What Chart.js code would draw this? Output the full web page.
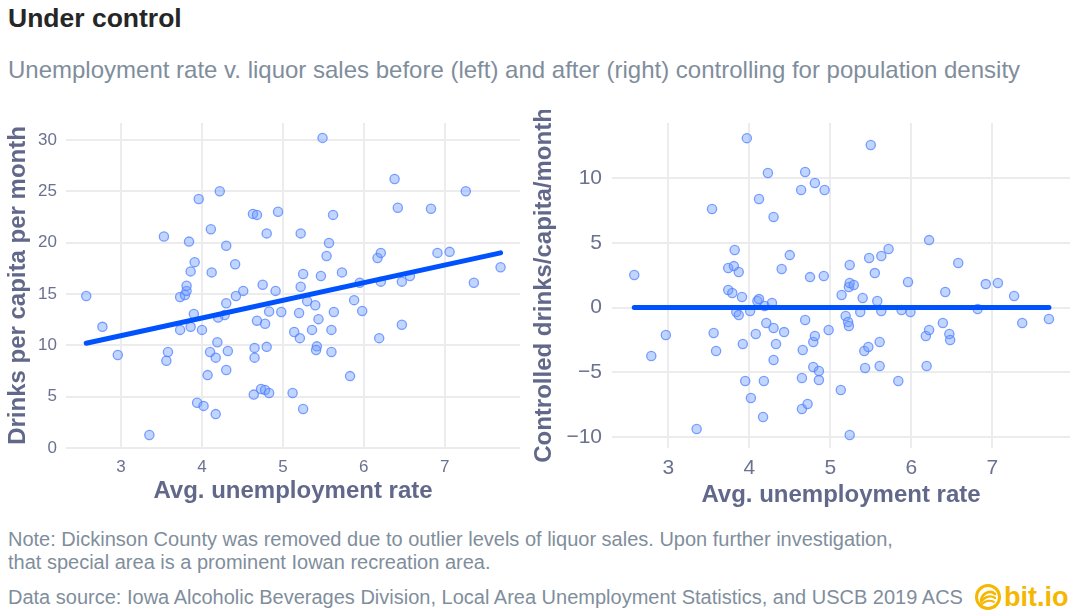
<!DOCTYPE html>
<html><head><meta charset="utf-8">
<script src="https://cdn.jsdelivr.net/npm/chart.js@4.4.1/dist/chart.umd.min.js"></script>
<style>
body{margin:0;width:1077px;height:616px;background:#fff;position:relative;overflow:hidden;font-family:"Liberation Sans",Arial,sans-serif;}
.t{position:absolute;white-space:nowrap;}
#title{left:8px;top:3px;font-size:26.5px;line-height:30px;font-weight:bold;color:#262626;}
#sub{left:8px;top:56px;font-size:24px;line-height:28px;color:#7f8e9c;}
#note{left:8px;top:528px;font-size:20px;line-height:23px;color:#7f8e9c;}
#src{left:8px;top:585px;font-size:20px;line-height:24px;color:#7f8e9c;}
#logo{left:974px;top:583px;}
#logotxt{left:1004px;top:582px;font-size:27px;line-height:30px;font-weight:bold;color:#f5b700;}
#c1{position:absolute;left:0;top:110px;}
#c2{position:absolute;left:530px;top:110px;}
</style></head>
<body>
<div class="t" id="title">Under control</div>
<div class="t" id="sub">Unemployment rate v. liquor sales before (left) and after (right) controlling for population density</div>
<canvas id="c1" width="530" height="400"></canvas>
<canvas id="c2" width="547" height="400"></canvas>
<div class="t" id="note">Note: Dickinson County was removed due to outlier levels of liquor sales. Upon further investigation,<br>that special area is a prominent Iowan recreation area.</div>
<div class="t" id="src">Data source: Iowa Alcoholic Beverages Division, Local Area Unemployment Statistics, and USCB 2019 ACS</div>
<svg class="t" id="logo" width="28" height="28" viewBox="0 0 28 28">
  <circle cx="14" cy="14" r="11.5" fill="none" stroke="#f5b700" stroke-width="3"/>
  <path d="M7 17 C9 9, 17 7, 21 11" fill="none" stroke="#f5b700" stroke-width="2.6" stroke-linecap="round"/>
  <path d="M7 19 C11 13, 17 12, 21 15" fill="none" stroke="#f5b700" stroke-width="2.2" stroke-linecap="round"/>
  <path d="M8 21 C12 17, 17 17, 20 19" fill="none" stroke="#f5b700" stroke-width="2" stroke-linecap="round"/>
</svg>
<div class="t" id="logotxt">bit.io</div>
<script>
// ---- data ----
const leftX = [2.57,2.77,2.96,3.35,3.53,3.56,3.58,3.73,3.73,3.79,3.81,3.81,3.84,3.86,3.86,3.90,3.91,3.94,3.96,4.00,
  4.02,4.07,4.10,4.11,4.12,4.17,4.17,4.19,4.20,4.22,4.28,4.30,4.30,4.30,4.32,4.41,4.42,4.51,4.63,4.68,
  4.64,4.65,4.65,4.68,4.73,4.78,4.83,4.78,4.80,4.83,4.80,4.75,4.94,4.91,4.98,5.12,5.14,5.20,5.21,5.22,
  5.22,5.25,5.25,5.30,5.36,5.40,5.42,5.41,5.44,5.47,5.49,5.54,5.57,5.60,5.60,5.62,5.63,5.73,5.83,5.88,
  5.95,5.98,6.17,6.19,6.21,6.21,6.38,6.42,6.47,6.47,6.57,6.83,6.91,7.06,7.26,7.36,7.69];
const leftY = [14.8,11.8,9.06,1.27,20.6,8.5,9.35,11.5,14.7,14.9,15.3,15.8,20.1,17.2,11.8,13.05,18.1,4.4,24.25,11.5,
  4.1,7.1,9.35,21.3,17.1,8.8,3.3,10.3,12.7,25.0,12.95,14.1,19.7,7.6,9.45,17.9,14.8,15.3,22.8,22.7,
  5.2,9.75,8.8,12.4,5.75,5.65,5.35,12.1,9.85,13.3,20.9,15.9,23.0,15.3,13.25,5.35,11.3,13.15,10.7,20.9,
  15.7,16.95,3.8,14.3,11.5,13.9,9.9,9.55,12.55,16.75,30.2,18.7,19.97,11.5,9.35,22.7,13.25,17.1,7.0,14.4,
  16.1,13.35,18.5,10.7,19.0,16.2,26.2,23.4,16.2,12.0,16.75,23.3,19.0,19.1,25.0,16.1,17.6];
const leftTrendX = [2.57, 7.69];
const leftTrendY = [10.2, 19.0];

const rightX = [2.58,2.79,2.97,3.35,3.54,3.56,3.59,3.74,3.81,3.82,3.87,3.74,3.79,3.84,3.87,3.91,3.92,3.95,3.97,4.01,
  4.02,4.08,4.10,4.12,4.12,4.17,4.18,4.19,4.21,4.23,4.28,4.30,4.30,4.30,4.33,4.40,4.43,4.50,4.64,4.65,
  4.65,4.66,4.69,4.69,4.72,4.75,4.79,4.79,4.81,4.81,4.86,4.86,4.92,4.93,4.98,5.13,5.14,5.19,5.22,5.23,
  5.23,5.24,5.24,5.24,5.29,5.37,5.40,5.42,5.43,5.47,5.48,5.50,5.55,5.58,5.61,5.61,5.63,5.63,5.72,5.84,
  5.88,5.96,5.99,6.18,6.19,6.22,6.22,6.39,6.42,6.47,6.48,6.58,6.82,6.92,7.07,7.27,7.37,7.70];
const rightY = [2.52,-3.74,-2.12,-9.38,7.62,-1.96,-3.35,3.06,3.21,4.45,2.75,1.36,1.13,-0.34,-0.57,0.82,-2.81,-5.67,13.1,-0.26,
  -6.99,-2.04,0.51,0.66,8.39,-8.45,-5.67,0.12,-1.19,10.4,0.36,7.0,-1.58,-4.05,-2.81,2.98,-1.89,4.06,9.09,-5.44,
  -7.84,-3.28,10.48,-0.96,-7.45,2.36,-2.66,-4.59,-2.19,9.63,-4.9,-5.6,2.44,9.09,-1.73,-6.37,0.97,-0.65,-1.11,-1.42,
  1.59,1.90,3.29,-9.85,1.75,-0.34,0.74,-3.35,-4.67,-3.04,3.83,12.57,2.67,0.51,-2.66,-4.51,3.99,-0.26,4.53,-5.67,
  -0.19,1.98,-0.34,-2.19,-4.51,-1.73,5.22,-1.19,1.21,-2.04,-2.5,3.45,-0.11,1.82,1.90,0.9,-1.19,-0.88];
const rightTrendX = [2.58, 7.70];
const rightTrendY = [0, 0];

const xTicks = [3,4,5,6,7];
const leftYTicks = [0,5,10,15,20,25,30];
const rightYTicks = [-10,-5,0,5,10];

const xTitle = 'Avg. unemployment rate';
const leftYTitle = 'Drinks per capita per month';
const rightYTitle = 'Controlled drinks/capita/month';

// ---- drawing ----
const FONT = '"Liberation Sans", Arial, sans-serif';
const TICK = '#6b7191';
const TITLE = '#62688a';
const GRID = '#ececef';
const pts = (xs, ys) => xs.map((x, i) => ({x, y: ys[i]}));

function makeChart(id, o) {
  return new Chart(document.getElementById(id), {
    type: 'scatter',
    data: {datasets: [
      {type: 'line', data: pts(o.tx, o.ty), borderColor: '#0052ff', borderWidth: 5,
       borderCapStyle: 'round', pointRadius: 0, fill: false, order: 0},
      {data: pts(o.x, o.y), pointRadius: 4.6, pointBorderWidth: 1.3,
       backgroundColor: 'rgba(110,155,255,0.42)', borderColor: 'rgba(80,130,255,0.75)', order: 1}
    ]},
    options: {
      responsive: false, animation: false, devicePixelRatio: 1,
      layout: {padding: {top: 13, right: o.padRight, left: 0, bottom: 0}},
      plugins: {legend: {display: false}, tooltip: {enabled: false}},
      scales: {
        x: {type: 'linear', min: o.xmin, max: o.xmax,
            afterBuildTicks: s => { s.ticks = xTicks.map(v => ({value: v})); },
            afterFit: s => { s.height = 62; s.paddingLeft = 0; s.paddingRight = 0; },
            grid: {color: GRID, lineWidth: 2, drawTicks: false},
            border: {display: false},
            ticks: {color: TICK, font: {family: FONT, size: o.tickSize}, padding: o.xTickPad},
            title: {display: true, text: xTitle, color: TITLE,
                    font: {family: FONT, size: 24, weight: 'bold'}, padding: {top: 0, bottom: o.xTitlePad}}},
        y: {type: 'linear', min: o.ymin, max: o.ymax,
            afterBuildTicks: s => { s.ticks = o.yTicks.map(v => ({value: v})); },
            afterFit: s => { s.width = o.yWidth; s.paddingTop = 0; s.paddingBottom = 0; },
            grid: {color: GRID, lineWidth: 2, drawTicks: false},
            border: {display: false},
            ticks: {color: TICK, font: {family: FONT, size: o.tickSize}, padding: o.yTickPad,
                    callback: v => String(v).replace('-', '\u2212')},
            title: {display: true, text: o.yTitle, color: TITLE,
                    font: {family: FONT, size: 24, weight: 'bold'}, padding: {top: o.yTitlePad, bottom: 0}}}
      }
    }
  });
}

makeChart('c1', {x: leftX, y: leftY, tx: leftTrendX, ty: leftTrendY,
  xmin: 2.32, xmax: 7.93, ymin: 0, ymax: 31.65, yTicks: leftYTicks, yTitle: leftYTitle,
  padRight: 10, yWidth: 66, tickSize: 17, xTickPad: 9, yTickPad: 9, xTitlePad: 4.5, yTitlePad: 3.5});
makeChart('c2', {x: rightX, y: rightY, tx: rightTrendX, ty: rightTrendY,
  xmin: 2.305, xmax: 7.96, ymin: -10.85, ymax: 14.27, yTicks: rightYTicks, yTitle: rightYTitle,
  padRight: 7, yWidth: 82, tickSize: 21, xTickPad: 8, yTickPad: 10, xTitlePad: 0.5, yTitlePad: 0});
</script>
</body></html>
